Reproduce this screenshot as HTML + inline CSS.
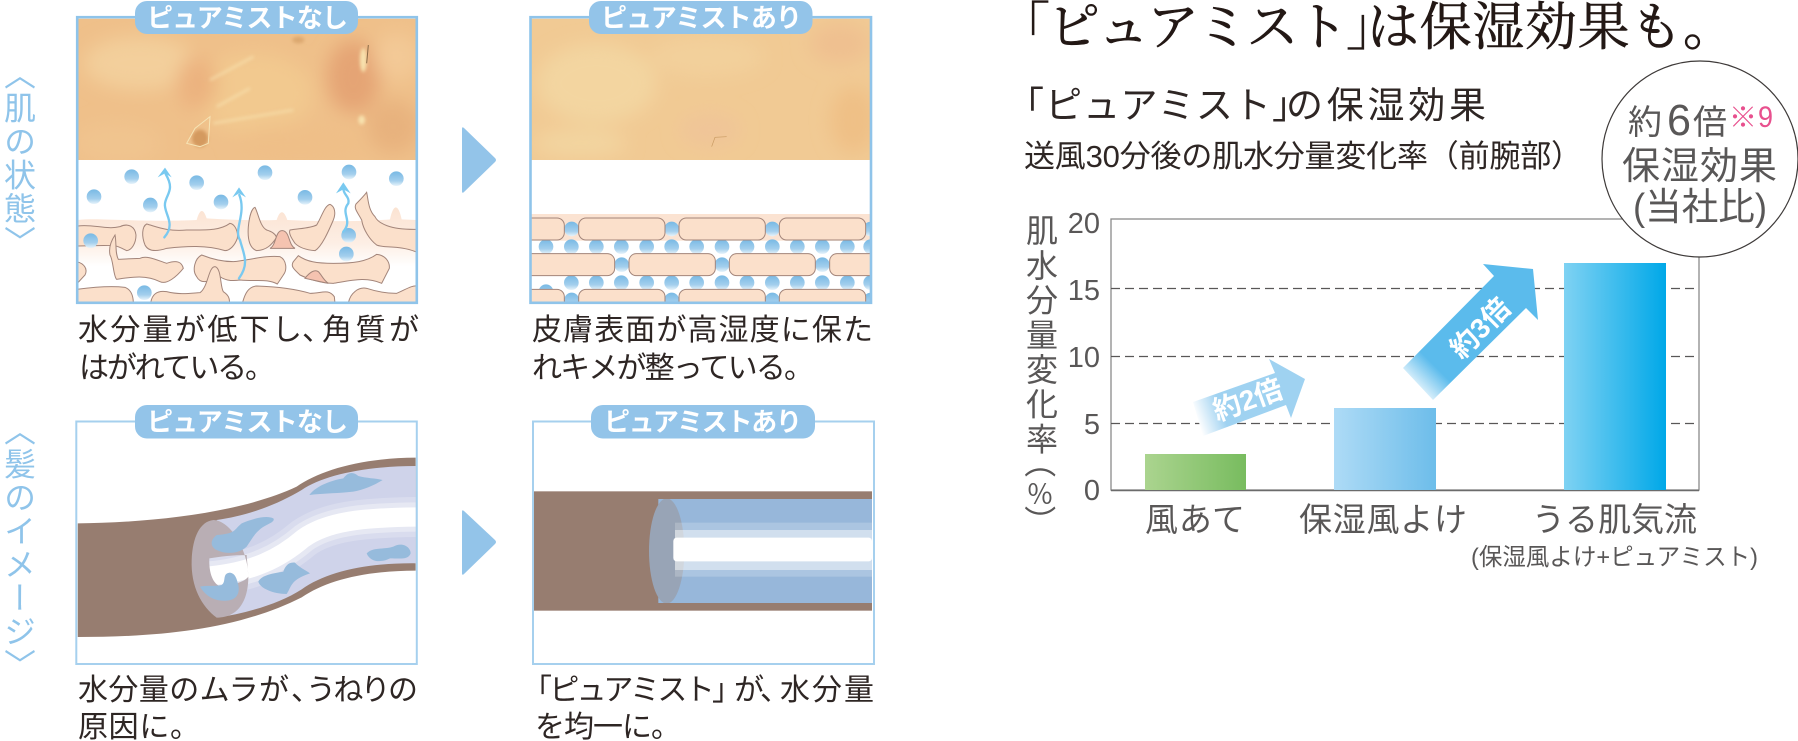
<!DOCTYPE html>
<html lang="ja"><head><meta charset="utf-8"><title>ピュアミスト</title>
<style>
html,body{margin:0;padding:0;background:#fff}
svg{display:block}
text{font-family:"Liberation Sans","Noto Sans CJK JP",sans-serif}
.cap{font-size:30px;fill:#2e2624}
.tag{font-size:26px;font-weight:700;fill:#fff}
.vl{font-size:32px;fill:#8fc4ea;writing-mode:vertical-rl;letter-spacing:1.5px}
.gr{fill:#595757}
.ser{font-family:"Noto Serif CJK SC","Noto Serif CJK JP",serif;fill:#231815;font-size:52px;stroke:#231815;stroke-width:.6px}
.f{fill:#fbe0cb;stroke:#a3857a;stroke-width:3}
.p{fill:#f5c3b0;stroke:#a3857a;stroke-width:3}
.d{fill:url(#dg)}
.w{fill:none;stroke:#79c9f0;stroke-width:7;stroke-linecap:round}
.ah{fill:#79c9f0}
.b{fill:#96bbdc}
</style></head><body>
<svg xmlns="http://www.w3.org/2000/svg" width="1798" height="741" viewBox="0 0 1798 741">
<defs>
<linearGradient id="dg" x1="0" y1="0" x2="0" y2="1"><stop offset="0" stop-color="#78b9e4"/><stop offset=".65" stop-color="#a3cfed"/><stop offset="1" stop-color="#e8f4fb"/></linearGradient>
<linearGradient id="band" x1="0" y1="0" x2="0" y2="1"><stop offset="0" stop-color="#fbe3d2"/><stop offset=".6" stop-color="#fdeee4"/><stop offset="1" stop-color="#fff"/></linearGradient>
<linearGradient id="bg" x1="0" y1="0" x2="1" y2="0"><stop offset="0" stop-color="#abd48f"/><stop offset="1" stop-color="#78bc5f"/></linearGradient>
<linearGradient id="bb" x1="0" y1="0" x2="1" y2="0"><stop offset="0" stop-color="#aedbf6"/><stop offset="1" stop-color="#6dbdea"/></linearGradient>
<linearGradient id="bc" x1="0" y1="0" x2="1" y2="0"><stop offset="0" stop-color="#7fd2f3"/><stop offset="1" stop-color="#00a8e8"/></linearGradient>
<linearGradient id="a2" gradientUnits="userSpaceOnUse" x1="1197" y1="420" x2="1222" y2="411"><stop offset="0" stop-color="#fff"/><stop offset="1" stop-color="#9fd2f1"/></linearGradient>
<linearGradient id="a3" gradientUnits="userSpaceOnUse" x1="1412" y1="391" x2="1436" y2="367"><stop offset="0" stop-color="#fff"/><stop offset="1" stop-color="#5bbbec"/></linearGradient>
<filter id="bl" x="-40%" y="-40%" width="180%" height="180%"><feGaussianBlur stdDeviation="28"/></filter>
<filter id="bs" x="-30%" y="-30%" width="160%" height="160%"><feGaussianBlur stdDeviation="5"/></filter>
<clipPath id="c1"><rect x="234" y="56" width="1014" height="849"/></clipPath>
<clipPath id="c1p"><rect x="234" y="56" width="1014" height="424"/></clipPath>
<clipPath id="c2"><rect x="154" y="56" width="1016" height="849"/></clipPath>
<clipPath id="c2p"><rect x="154" y="56" width="1016" height="424"/></clipPath>
<clipPath id="c3"><rect x="233" y="100" width="1014" height="715"/></clipPath>
<clipPath id="c4b"><rect x="162" y="327" width="1014" height="312"/></clipPath>
</defs>

<!-- Panel 1 -->
<g transform="scale(.33333)" clip-path="url(#c1)">
<g clip-path="url(#c1p)">
<rect x="234" y="56" width="1014" height="424" fill="#efc08a"/>
<g filter="url(#bl)">
<ellipse cx="420" cy="190" rx="170" ry="80" fill="#f3cf9b"/>
<ellipse cx="760" cy="280" rx="180" ry="120" fill="#f2c98f"/>
<ellipse cx="1060" cy="230" rx="80" ry="110" fill="#e5a474"/>
<ellipse cx="590" cy="250" rx="60" ry="80" fill="#ecb27f"/>
<ellipse cx="1190" cy="170" rx="70" ry="70" fill="#f3c996"/>
<ellipse cx="350" cy="430" rx="130" ry="60" fill="#f0c48f"/>
<ellipse cx="900" cy="430" rx="200" ry="60" fill="#efbf88"/>
<ellipse cx="1180" cy="380" rx="80" ry="80" fill="#e8b27e"/>
</g>
<g filter="url(#bs)">
<path d="M630 240 L760 170 M650 320 L750 265 M640 370 L880 330" stroke="#f8e2b0" stroke-width="7" fill="none" opacity=".7"/>
<ellipse cx="1090" cy="180" rx="10" ry="36" fill="#f8e2ae"/>
<ellipse cx="1085" cy="360" rx="10" ry="14" fill="#f8e2ae"/>
<ellipse cx="600" cy="415" rx="24" ry="26" fill="#d49a5f"/>
<ellipse cx="895" cy="120" rx="18" ry="10" fill="#dca86f"/>
</g>
<path d="M560 430 L585 385 L630 350 L625 430 L600 440Z" fill="none" stroke="#f6e4b5" stroke-width="3"/>
<path d="M1105 135 L1100 190" stroke="#8a6a45" stroke-width="3"/>
</g>
<path d="M234 660 C300 652 400 668 590 660 C600 625 610 625 620 655 C700 660 780 662 830 660 C840 628 852 630 862 660 C960 665 1100 665 1170 658 C1180 610 1195 610 1205 658 L1248 660 L1248 800 L234 800Z" fill="url(#band)"/>
<path class="f" d="M234 678 C280 672 320 690 360 680 C385 668 405 680 408 705 C408 730 395 750 380 752 C365 745 350 735 330 736 L234 738Z"/>
<path class="f" d="M440 672 C470 680 500 695 560 690 C620 690 660 692 690 670 C705 672 715 695 712 715 C705 735 690 752 675 752 C620 735 560 738 500 745 C470 755 445 755 435 735 C425 710 425 680 440 672Z"/>
<path class="f" d="M765 622 C775 640 780 680 800 690 C815 695 825 700 830 712 C815 735 800 750 770 752 C750 745 742 720 745 680 C748 650 755 625 765 622Z"/>
<path class="p" d="M810 745 C830 735 825 690 848 692 C870 695 865 735 885 745Z" stroke="none"/>
<path class="f" d="M870 690 C900 685 930 685 950 675 C965 650 975 615 990 613 C1005 620 1008 640 1000 660 C985 695 965 740 945 752 C920 750 900 745 885 730 C875 715 865 700 870 690Z"/>
<path class="f" d="M1100 577 C1105 600 1105 630 1125 650 C1135 670 1170 690 1252 688 L1252 757 C1200 735 1150 745 1130 735 C1110 720 1090 690 1085 660 C1075 640 1060 625 1068 612 C1080 600 1090 590 1100 577Z"/>
<path class="f" d="M345 705 C335 720 325 740 330 765 C340 780 340 830 350 838 C400 830 440 825 480 845 C500 855 530 830 550 805 C545 785 530 780 500 790 C470 780 440 765 420 775 L355 778 C345 760 350 730 345 705Z"/>
<path class="f" d="M230 785 C250 790 265 805 255 825 L230 852Z"/>
<path class="f" d="M605 765 C630 775 660 785 700 785 C750 780 800 765 840 770 C860 780 862 810 850 825 L832 852 C800 835 770 845 720 840 C690 845 670 838 660 830 C620 850 600 850 590 830 C575 810 585 775 605 765Z"/>
<path class="f" d="M895 767 C920 785 950 790 1000 790 C1060 790 1100 785 1130 763 C1155 765 1170 785 1168 805 L1145 850 C1100 830 1060 840 1000 850 C960 850 920 835 900 825 C885 810 870 800 880 785Z"/>
<path class="p" d="M915 835 C930 815 945 808 955 815 C965 825 970 840 985 850Z"/>
<path class="f" d="M230 868 C290 860 340 858 375 862 C395 870 400 890 400 910 L230 910Z"/>
<path class="f" d="M452 910 C455 885 470 870 500 875 C540 885 570 880 600 878 C625 860 625 800 645 800 C665 805 660 860 670 875 C685 885 690 895 688 910Z"/>
<path class="f" d="M727 910 C735 880 745 860 770 858 C830 860 880 865 930 880 C965 880 985 865 1003 890 L1005 910Z"/>
<path class="f" d="M1045 910 C1050 880 1075 860 1100 865 C1130 875 1160 880 1190 880 C1215 870 1235 855 1252 858 L1252 910Z"/>
<circle class="d" cx="395" cy="530" r="22"/><circle class="d" cx="590" cy="548" r="22"/><circle class="d" cx="282" cy="590" r="22"/><circle class="d" cx="451" cy="615" r="22"/><circle class="d" cx="663" cy="606" r="22"/><circle class="d" cx="795" cy="518" r="22"/><circle class="d" cx="915" cy="592" r="22"/><circle class="d" cx="1047" cy="516" r="22"/><circle class="d" cx="1189" cy="536" r="22"/><circle class="d" cx="272" cy="722" r="22"/><circle class="d" cx="1046" cy="706" r="22"/><circle class="d" cx="1039" cy="762" r="22"/><circle class="d" cx="433" cy="878" r="22"/>
<path class="w" d="M493 712 C530 670 490 640 495 610 C500 580 525 570 497 522"/><path class="ah" d="M495 503 L515 532 L495 520 L473 532Z"/>
<path class="w" d="M717 835 C750 790 730 760 720 720 C700 690 740 640 718 585"/><path class="ah" d="M717 562 L738 592 L717 580 L697 592Z"/>
<path class="w" d="M1030 695 C1060 660 1020 640 1045 610 C1050 590 1030 585 1030 565"/><path class="ah" d="M1030 547 L1052 580 L1030 568 L1008 580Z"/>
</g>
<rect x="77.2" y="17.2" width="339.6" height="285.6" fill="none" stroke="#8fc4ea" stroke-width="2.6"/>
<rect x="135" y="1" width="223" height="33" rx="12" fill="#93c4e9"/>
<text class="tag" x="147" y="27" textLength="201" lengthAdjust="spacing">ピュアミストなし</text>
<text class="cap" x="78" y="340" textLength="224" lengthAdjust="spacing">水分量が低下し</text>
<text class="cap" x="302" y="340">、</text>
<text class="cap" x="322" y="340" textLength="97" lengthAdjust="spacing">角質が</text>
<text class="cap" x="79" y="378" textLength="196" lengthAdjust="spacing">はがれている。</text>

<!-- Panel 2 -->
<g transform="translate(480,0) scale(.33333)" clip-path="url(#c2)">
<g clip-path="url(#c2p)">
<rect x="154" y="56" width="1016" height="424" fill="#f1ca94"/>
<g filter="url(#bl)">
<ellipse cx="350" cy="250" rx="180" ry="120" fill="#f3d5a0"/>
<ellipse cx="680" cy="170" rx="170" ry="60" fill="#f2d09b"/>
<ellipse cx="1080" cy="130" rx="90" ry="60" fill="#efc090"/>
<ellipse cx="1120" cy="360" rx="70" ry="100" fill="#efc086"/>
<ellipse cx="690" cy="390" rx="90" ry="50" fill="#f0c598"/>
<ellipse cx="300" cy="430" rx="140" ry="40" fill="#f3d5a0"/>
</g>
<path d="M695 440 L705 412 L740 410" stroke="#c89a62" stroke-width="2" fill="none"/>
</g>
<rect x="154" y="642" width="1016" height="80" fill="#fbe3d2"/>
<g>
<circle class="d" cx="275" cy="687" r="22"/><circle class="d" cx="575" cy="687" r="22"/><circle class="d" cx="877" cy="687" r="22"/><circle class="d" cx="1172" cy="687" r="22"/>
<circle class="d" cx="425" cy="794" r="22"/><circle class="d" cx="726" cy="794" r="22"/><circle class="d" cx="1027" cy="794" r="22"/>
<circle class="d" cx="275" cy="900" r="22"/><circle class="d" cx="575" cy="900" r="22"/><circle class="d" cx="877" cy="900" r="22"/><circle class="d" cx="1172" cy="900" r="22"/>
<circle class="d" cx="198" cy="875" r="22"/>
<circle class="d" cx="198" cy="740" r="22"/><circle class="d" cx="274" cy="740" r="22"/><circle class="d" cx="349" cy="740" r="22"/><circle class="d" cx="424" cy="740" r="22"/><circle class="d" cx="500" cy="740" r="22"/><circle class="d" cx="575" cy="740" r="22"/><circle class="d" cx="650" cy="740" r="22"/><circle class="d" cx="726" cy="740" r="22"/><circle class="d" cx="801" cy="740" r="22"/><circle class="d" cx="877" cy="740" r="22"/><circle class="d" cx="952" cy="740" r="22"/><circle class="d" cx="1027" cy="740" r="22"/><circle class="d" cx="1102" cy="740" r="22"/><circle class="d" cx="1172" cy="740" r="22"/>
<circle class="d" cx="274" cy="848" r="22"/><circle class="d" cx="349" cy="848" r="22"/><circle class="d" cx="424" cy="848" r="22"/><circle class="d" cx="500" cy="848" r="22"/><circle class="d" cx="575" cy="848" r="22"/><circle class="d" cx="650" cy="848" r="22"/><circle class="d" cx="726" cy="848" r="22"/><circle class="d" cx="801" cy="848" r="22"/><circle class="d" cx="877" cy="848" r="22"/><circle class="d" cx="952" cy="848" r="22"/><circle class="d" cx="1027" cy="848" r="22"/><circle class="d" cx="1102" cy="848" r="22"/><circle class="d" cx="1172" cy="848" r="22"/>
</g>
<g class="f">
<rect x="100" y="654" width="153" height="66" rx="22"/><rect x="296" y="654" width="259" height="66" rx="22"/><rect x="597" y="654" width="259" height="66" rx="22"/><rect x="898" y="654" width="259" height="66" rx="22"/>
<rect x="100" y="761" width="304" height="66" rx="22"/><rect x="447" y="761" width="259" height="66" rx="22"/><rect x="748" y="761" width="258" height="66" rx="22"/><rect x="1049" y="761" width="200" height="66" rx="22"/>
<rect x="100" y="868" width="153" height="66" rx="22"/><rect x="296" y="868" width="259" height="66" rx="22"/><rect x="597" y="868" width="259" height="66" rx="22"/><rect x="898" y="868" width="259" height="66" rx="22"/>
</g>
</g>
<rect x="530.5" y="17.2" width="340.5" height="285.6" fill="none" stroke="#8fc4ea" stroke-width="2.6"/>
<rect x="589" y="1" width="223.5" height="33" rx="12" fill="#93c4e9"/>
<text class="tag" x="601" y="27" textLength="201" lengthAdjust="spacing">ピュアミストあり</text>
<text class="cap" x="532" y="340" textLength="341" lengthAdjust="spacing">皮膚表面が高湿度に保た</text>
<text class="cap" x="532" y="378" textLength="282" lengthAdjust="spacing">れキメが整っている。</text>

<!-- Arrows between -->
<path d="M462 129 Q462 126 464 128 L495 158 Q497 160 495 162 L464 192 Q462 194 462 191Z" fill="#93c4e9"/>
<path d="M462 512 Q462 509 464 511 L495 540 Q497 542 495 544 L464 574 Q462 576 462 573Z" fill="#93c4e9"/>

<!-- Side labels -->
<text class="vl" x="18" y="58">〈肌の状態〉</text>
<text class="vl" x="18" y="414">〈髪のイメージ〉</text>

<!-- Panel 3 -->
<g transform="translate(0,390) scale(.33333)" clip-path="url(#c3)">
<path d="M233 400 C450 398 720 370 890 290 C960 240 1090 203 1250 203 L1250 542 C1090 542 980 572 905 622 C720 715 500 741 233 741Z" fill="#977d70"/>
<path d="M650 390 C740 378 830 345 905 300 C970 255 1100 228 1250 228 L1250 520 C1100 518 980 545 905 598 C840 640 740 670 650 683Z" fill="#cfd3ea"/>
<path d="M630 558 C760 545 840 505 910 445 C980 395 1080 383 1250 381" fill="none" stroke="#d9dcee" stroke-width="120"/>
<path d="M630 558 C760 545 840 505 910 445 C980 395 1080 383 1250 381" fill="none" stroke="#e6e8f3" stroke-width="88"/>
<path d="M630 558 C760 545 840 505 910 445 C980 395 1080 383 1250 381" fill="none" stroke="#fff" stroke-width="58"/>
<path fill-rule="evenodd" d="M640 390 C690 390 745 480 745 560 C745 625 720 683 650 683 C605 650 572 590 575 510 C578 440 600 395 640 390Z M628 505 C626 550 640 585 665 590 C700 585 735 575 745 560 L740 495 C700 495 660 500 628 505Z" fill="#b9aeb4"/>
<path class="b" d="M928 315 C950 285 1000 270 1030 265 C1045 245 1060 245 1075 258 C1100 265 1130 265 1148 270 C1125 285 1090 300 1060 305 C1020 310 970 310 928 315Z"/>
<path class="b" d="M820 385 C800 375 760 385 725 400 C700 420 710 430 650 435 C630 450 630 470 650 480 C680 495 720 490 740 470 C760 440 770 420 800 405 C815 398 825 392 820 385Z"/>
<path class="b" d="M690 548 C665 550 680 575 665 585 C640 590 620 585 600 590 C615 615 640 635 680 632 C710 630 720 610 715 585 C710 565 705 550 690 548Z"/>
<path class="b" d="M930 550 C915 540 895 530 885 518 C865 515 855 530 850 545 C820 550 785 555 775 575 C780 595 820 612 860 612 C875 590 870 570 930 550Z"/>
<path class="b" d="M1100 490 C1120 470 1150 480 1180 470 C1205 455 1232 470 1232 490 C1225 510 1200 505 1170 505 C1140 520 1110 515 1100 490Z"/>
</g>
<rect x="76.3" y="421.5" width="340.5" height="242.5" fill="none" stroke="#a6d0ee" stroke-width="2"/>
<rect x="135" y="405" width="223" height="33.5" rx="12" fill="#93c4e9"/>
<text class="tag" x="147" y="431" textLength="201" lengthAdjust="spacing">ピュアミストなし</text>
<text class="cap" x="78" y="700" textLength="211" lengthAdjust="spacing">水分量のムラが</text>
<text class="cap" x="291" y="700">、</text>
<text class="cap" x="306" y="700" textLength="112" lengthAdjust="spacing">うねりの</text>
<text class="cap" x="78" y="737" textLength="122" lengthAdjust="spacing">原因に。</text>

<!-- Panel 4 -->
<g transform="translate(480,390) scale(.33333)">
<rect x="162" y="304" width="1014" height="358" fill="#977d70"/>
<g clip-path="url(#c4b)">
<rect x="535" y="327" width="641" height="312" fill="#97b7da"/>
<ellipse cx="560" cy="483" rx="53" ry="158" fill="#98a4b6"/>
<rect x="585" y="398" width="591" height="162" fill="#fff" opacity=".2"/>
<rect x="585" y="420" width="591" height="120" fill="#fff" opacity=".45"/>
<rect x="580" y="443" width="596" height="71" rx="10" fill="#fff"/>
</g>
</g>
<rect x="533" y="421.5" width="341" height="242.5" fill="none" stroke="#a6d0ee" stroke-width="2"/>
<rect x="591" y="405" width="224" height="33.5" rx="12" fill="#93c4e9"/>
<text class="tag" x="604" y="431" textLength="198" lengthAdjust="spacing">ピュアミストあり</text>
<text class="cap" x="522" y="700" textLength="220" lengthAdjust="spacing">「ピュアミスト」</text>
<text class="cap" x="734" y="700">が</text>
<text class="cap" x="760" y="700">、</text>
<text class="cap" x="780" y="700" textLength="94" lengthAdjust="spacing">水分量</text>
<text class="cap" x="535" y="737" textLength="146" lengthAdjust="spacing">を均一に。</text>

<!-- Title -->
<text class="ser" x="998" y="45" textLength="400" lengthAdjust="spacing">「ピュアミスト」</text>
<text class="ser" x="1367" y="45" textLength="368" lengthAdjust="spacing">は保湿効果も。</text>
<text x="1007" y="118" font-size="37" fill="#2e2624" textLength="302" lengthAdjust="spacing">「ピュアミスト」</text>
<text x="1286" y="118" font-size="37" fill="#2e2624" textLength="200" lengthAdjust="spacing">の保湿効果</text>
<text x="1024" y="167" font-size="31" fill="#2e2624" textLength="558" lengthAdjust="spacing">送風30分後の肌水分量変化率（前腕部）</text>

<!-- Chart -->
<rect x="1111" y="219" width="588" height="271" fill="none" stroke="#8a8a8a" stroke-width="1.3"/>
<path d="M1111 288.5H1699M1111 356.5H1699M1111 423.5H1699" stroke="#595757" stroke-width="1.3" stroke-dasharray="9 5" fill="none"/>
<path d="M1111 490.5H1699" stroke="#6b6b6b" stroke-width="1.6"/>
<rect x="1145" y="454" width="101" height="36" fill="url(#bg)"/>
<rect x="1334" y="408" width="102" height="82" fill="url(#bb)"/>
<rect x="1564" y="263" width="102" height="227" fill="url(#bc)"/>
<g class="gr" font-size="29" text-anchor="end">
<text x="1100" y="233">20</text><text x="1100" y="300">15</text><text x="1100" y="367">10</text><text x="1100" y="434">5</text><text x="1100" y="500">0</text>
</g>
<text class="gr" x="1040" y="214" font-size="32" style="writing-mode:vertical-rl;letter-spacing:2.7px">肌水分量変化率</text>
<text class="gr" transform="translate(1028,446) rotate(90)" font-size="32">（</text>
<text class="gr" x="1040" y="504" font-size="27" text-anchor="middle">％</text>
<text class="gr" transform="translate(1028,505) rotate(90)" font-size="32">）</text>
<text class="gr" x="1145" y="531" font-size="33" textLength="100" lengthAdjust="spacing">風あて</text>
<text class="gr" x="1299" y="531" font-size="33" textLength="168" lengthAdjust="spacing">保湿風よけ</text>
<text class="gr" x="1532" y="531" font-size="33" textLength="165" lengthAdjust="spacing">うる肌気流</text>
<text class="gr" x="1471" y="565" font-size="24" textLength="287" lengthAdjust="spacingAndGlyphs">(保湿風よけ+ピュアミスト)</text>

<!-- Growth arrows -->
<path d="M1193 402 L1275 373 L1269 359 L1305 379 L1291 418 L1286 405 L1203 436Z" fill="url(#a2)"/>
<path d="M1403 368 L1494 276 L1483 264 L1533 269 L1538 320 L1526 308 L1433 400Z" fill="url(#a3)"/>
<text transform="translate(1251,409) rotate(-20)" font-size="28" font-weight="700" fill="#fff" text-anchor="middle">約2倍</text>
<text transform="translate(1487,335) rotate(-45)" font-size="28" font-weight="700" fill="#fff" text-anchor="middle">約3倍</text>

<!-- Circle -->
<circle cx="1700" cy="159" r="98" fill="#fff" stroke="#3e3a39" stroke-width="1.2"/>
<text class="gr" x="1628" y="134" font-size="34">約</text>
<text class="gr" x="1667" y="135" font-size="44" textLength="24" lengthAdjust="spacingAndGlyphs">6</text>
<text class="gr" x="1693" y="134" font-size="34">倍</text>
<text x="1729" y="127" font-size="28" fill="#e8508e">※</text>
<text x="1758" y="127" font-size="30" fill="#e8508e" textLength="15" lengthAdjust="spacingAndGlyphs">9</text>
<text class="gr" x="1622" y="179" font-size="38" textLength="155" lengthAdjust="spacing">保湿効果</text>
<text class="gr" x="1633" y="220" font-size="38" textLength="134" lengthAdjust="spacingAndGlyphs">(当社比)</text>
</svg>
</body></html>
